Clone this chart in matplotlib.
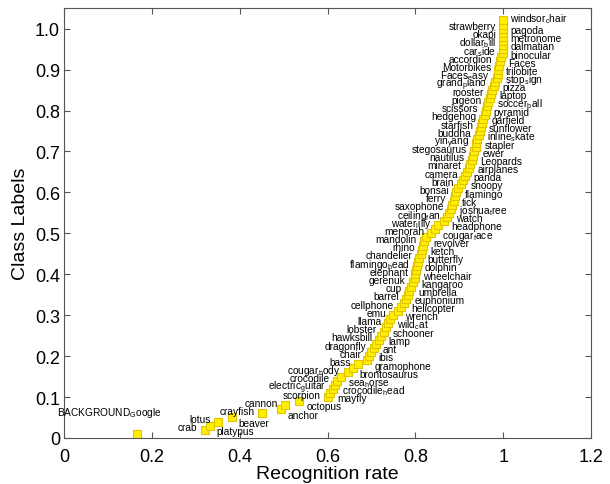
import matplotlib
matplotlib.use('Agg')
import matplotlib.pyplot as plt

plt.rcParams['font.family'] = ['Liberation Sans', 'DejaVu Sans']
plt.rcParams['mathtext.fontset'] = 'custom'
plt.rcParams['mathtext.rm'] = 'Liberation Sans'
plt.rcParams['mathtext.it'] = 'Liberation Sans'

# classes sorted from worst to best recognition rate
class_names = [
    'BACKGROUND_Google', 'crab', 'platypus', 'lotus', 'beaver', 'crayfish',
    'anchor', 'cannon', 'octopus', 'scorpion', 'mayfly', 'electric_guitar',
    'crocodile_head', 'crocodile', 'sea_horse', 'cougar_body', 'brontosaurus',
    'bass', 'gramophone', 'chair', 'ibis', 'dragonfly', 'ant', 'hawksbill',
    'lamp', 'lobster', 'schooner', 'llama', 'wild_cat', 'emu', 'wrench',
    'cellphone', 'helicopter', 'barrel', 'euphonium', 'cup', 'umbrella',
    'gerenuk', 'kangaroo', 'elephant', 'wheelchair', 'flamingo_head',
    'dolphin', 'chandelier', 'butterfly', 'rhino', 'ketch', 'mandolin',
    'revolver', 'menorah', 'cougar_face', 'water_lilly', 'headphone',
    'ceiling_fan', 'watch', 'saxophone', 'joshua_tree', 'ferry', 'tick',
    'bonsai', 'flamingo', 'brain', 'snoopy', 'camera', 'panda', 'minaret',
    'airplanes', 'nautilus', 'Leopards', 'stegosaurus', 'ewer', 'yin_yang',
    'stapler', 'buddha', 'inline_skate', 'starfish', 'sunflower', 'hedgehog',
    'garfield', 'scissors', 'pyramid', 'pigeon', 'soccer_ball', 'rooster',
    'laptop', 'grand_piano', 'pizza', 'Faces_easy', 'stop_sign', 'Motorbikes',
    'trilobite', 'accordion', 'Faces', 'car_side', 'binocular', 'dollar_bill',
    'dalmatian', 'okapi', 'metronome', 'strawberry', 'pagoda', 'windsor_chair',
]

rates = [
    0.165, 0.320, 0.332, 0.350, 0.382, 0.450, 0.493, 0.504, 0.536, 0.600,
    0.606, 0.612, 0.617, 0.622, 0.630, 0.646, 0.657, 0.669, 0.690, 0.694,
    0.700, 0.705, 0.710, 0.717, 0.722, 0.728, 0.733, 0.738, 0.742, 0.750,
    0.760, 0.767, 0.774, 0.778, 0.783, 0.786, 0.790, 0.794, 0.798, 0.800,
    0.802, 0.804, 0.806, 0.809, 0.812, 0.815, 0.817, 0.819, 0.825, 0.836,
    0.845, 0.852, 0.866, 0.873, 0.877, 0.881, 0.884, 0.887, 0.890, 0.893,
    0.897, 0.903, 0.909, 0.913, 0.917, 0.921, 0.925, 0.928, 0.931, 0.934,
    0.937, 0.939, 0.941, 0.944, 0.946, 0.949, 0.952, 0.955, 0.958, 0.960,
    0.962, 0.966, 0.969, 0.972, 0.975, 0.978, 0.981, 0.985, 0.987, 0.989,
    0.990, 0.992, 0.995, 1.000, 1.000, 1.000, 1.000, 1.000, 1.000, 1.000,
    1.000, 1.000,
]

levels = [(k + 1) / 100 for k in range(len(rates))]

xticks = [0, 0.2, 0.4, 0.6, 0.8, 1.0, 1.2]
xtick_labels = ['0', '0.2', '0.4', '0.6', '0.8', '1', '1.2']
yticks = [0, 0.1, 0.2, 0.3, 0.4, 0.5, 0.6, 0.7, 0.8, 0.9, 1.0]
ytick_labels = ['0', '0.1', '0.2', '0.3', '0.4', '0.5', '0.6', '0.7', '0.8', '0.9', '1.0']


def tex_label(name):
    # matlab tex: underscore makes only the next char a subscript
    if '_' not in name:
        return name
    head, tail = name.split('_', 1)
    return head + r'$_{\mathrm{' + tail[0] + r'}}$' + tail[1:]


fig = plt.figure(figsize=(6.1, 4.85), dpi=100)
ax = fig.add_axes([0.105, 0.095, 0.864, 0.886])

ax.plot(rates, levels, linestyle='none', marker='s', markersize=5.8,
        markerfacecolor='#FFEE00', markeredgecolor='#E2C400', markeredgewidth=0.8)

for k, (name, x, y) in enumerate(zip(class_names, rates, levels)):
    idx = k + 1
    label = tex_label(name)
    if idx == 1:
        ax.text(x + 0.058, y + 0.045, label, ha='right', va='baseline', fontsize=7.3)
        continue
    dy = 0.007 if idx % 2 == 0 else -0.012
    right = (idx % 2 == 1) or idx == len(class_names)
    if right:
        ax.text(x + 0.016, y + dy - 0.0085, label, ha='left', va='baseline', fontsize=7.3)
    else:
        ax.text(x - 0.016, y + dy - 0.0085, label, ha='right', va='baseline', fontsize=7.3)

ax.set_xlim(0, 1.2)
ax.set_ylim(0, 1.05)
ax.set_xticks(xticks)
ax.set_xticklabels(xtick_labels)
ax.set_yticks(yticks)
ax.set_yticklabels(ytick_labels)
ax.tick_params(direction='in', top=True, right=True, length=4, width=0.8,
               color='#555555', labelsize=13, pad=3)
ax.tick_params(axis='x', pad=7)
for s in ax.spines.values():
    s.set_color('#555555')
    s.set_linewidth(0.8)

ax.set_xlabel('Recognition rate', fontsize=14, labelpad=0)
ax.set_ylabel('Class Labels', fontsize=14, labelpad=4)

plt.savefig('out.png', dpi=100)
